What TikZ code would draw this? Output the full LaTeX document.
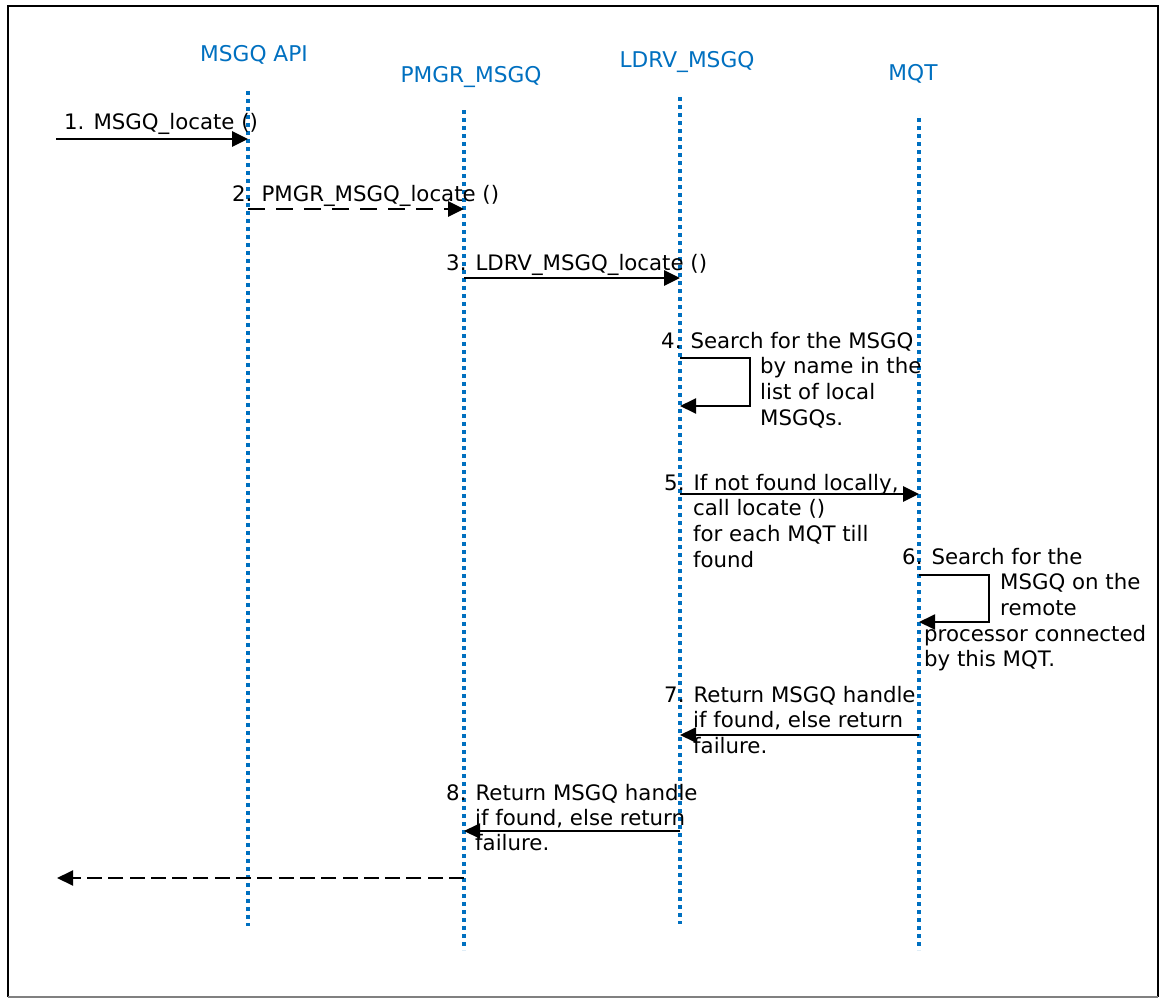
\documentclass[tikz,border=0pt]{standalone}
\usepackage{fontspec}
\setmainfont{DejaVu Sans}
\usetikzlibrary{arrows.meta}
\definecolor{lifeblue}{RGB}{0,112,192}
\begin{document}
\begin{tikzpicture}[x=1pt,y=-1pt,
  lbl/.style={anchor=base west,inner sep=0pt,font=\fontsize{21.3}{25.6}\selectfont},
  head/.style={anchor=base,inner sep=0pt,text=lifeblue,font=\fontsize{21.7}{26}\selectfont},
  life/.style={draw=lifeblue,line width=3.8pt,dash pattern=on 4pt off 4pt},
  msg/.style={line width=2.7pt,-{Triangle[length=16pt,width=15pt]}},
  ret/.style={line width=1.9pt,-{Triangle[length=16pt,width=15pt]}},
  dshA/.style={dash pattern=on 17pt off 11pt},
  dshB/.style={dash pattern=on 15pt off 6.3pt}]
\useasboundingbox (0,0) rectangle (1160,998);
\fill[white] (0,0) rectangle (1160,998);
% outer frame
\draw[line width=2pt] (8,997) -- (8,6) -- (1158,6) -- (1158,997);
\draw[gray,line width=1.5pt] (8,997) -- (1158,997);

% lifeline ends
\coordinate (apiT) at (248,91);  \coordinate (apiB) at (248,926);
\coordinate (pmgrT) at (464,110); \coordinate (pmgrB) at (464,950);
\coordinate (ldrvT) at (680,97);  \coordinate (ldrvB) at (680,924);
\coordinate (mqtT) at (919,118);  \coordinate (mqtB) at (919,950);

% lifeline titles
\node[head] (hApi)  at (254,62) {MSGQ API};
\node[head] (hPmgr) at (471,82) {PMGR\_MSGQ};
\node[head] (hLdrv) at (687,68) {LDRV\_MSGQ};
\node[head] (hMqt)  at (913,81) {MQT};

% lifelines
\draw[life] (apiT) -- (apiB);
\draw[life] (pmgrT) -- (pmgrB);
\draw[life] (ldrvT) -- (ldrvB);
\draw[life] (mqtT) -- (mqtB);

% message levels
\coordinate (m1) at (56,139);
\coordinate (m2) at (0,209);
\coordinate (m3) at (0,278);
\coordinate (l4a) at (750,358); \coordinate (l4b) at (750,406);
\coordinate (m5) at (0,494);
\coordinate (l6a) at (989,575); \coordinate (l6b) at (989,622);
\coordinate (m7) at (0,735);
\coordinate (m8) at (0,831);
\coordinate (m9) at (57,878);

% messages
\draw[msg] (m1) -- (apiT |- m1);
\draw[msg,dshA] (apiT |- m2) -- (pmgrT |- m2);
\draw[msg] (pmgrT |- m3) -- (ldrvT |- m3);
\draw[ret] (ldrvT |- l4a) -- (l4a) -- (l4b) -- (ldrvT |- l4b);
\draw[msg] (ldrvT |- m5) -- (mqtT |- m5);
\draw[ret] (mqtT |- l6a) -- (l6a) -- (l6b) -- (mqtT |- l6b);
\draw[ret] (mqtT |- m7) -- (ldrvT |- m7);
\draw[ret] (ldrvT |- m8) -- (pmgrT |- m8);
\draw[ret,dshB] (pmgrT |- m9) -- (m9);

% message labels
\node[lbl] (t1) at (64,129.5) {1. MSGQ\_locate ()};
\node[lbl] (t2) at (232,201) {2. PMGR\_MSGQ\_locate ()};
\node[lbl] (t3) at (446,270) {3. LDRV\_MSGQ\_locate ()};

\node[lbl] (t4) at (661,348) {4. Search for the MSGQ};
\foreach \txt [count=\i] in {by name in the, list of local, MSGQs.}
  \node[lbl] (t4-\i) at (760,{348+25.7*\i}) {\txt};

\node[lbl] (t5) at (664,490) {5. If not found locally,};
\foreach \txt [count=\i] in {call locate (), for each MQT till, found}
  \node[lbl] (t5-\i) at (693,{490+25.7*\i}) {\txt};

\node[lbl] (t6) at (902,564) {6. Search for the};
\foreach \txt [count=\i] in {MSGQ on the, remote}
  \node[lbl] (t6-\i) at (1000,{564+25.7*\i}) {\txt};
\foreach \txt [count=\i] in {processor connected, by this MQT.}
  \node[lbl] (t6-x\i) at (924,{615.4+25.7*\i}) {\txt};

\node[lbl] (t7) at (664,702) {7. Return MSGQ handle};
\foreach \txt [count=\i] in {{if found, else return}, failure.}
  \node[lbl] (t7-\i) at (693,{702+25.5*\i}) {\txt};

\node[lbl] (t8) at (446,800) {8. Return MSGQ handle};
\foreach \txt [count=\i] in {{if found, else return}, failure.}
  \node[lbl] (t8-\i) at (475,{800+25*\i}) {\txt};
\end{tikzpicture}
\end{document}
